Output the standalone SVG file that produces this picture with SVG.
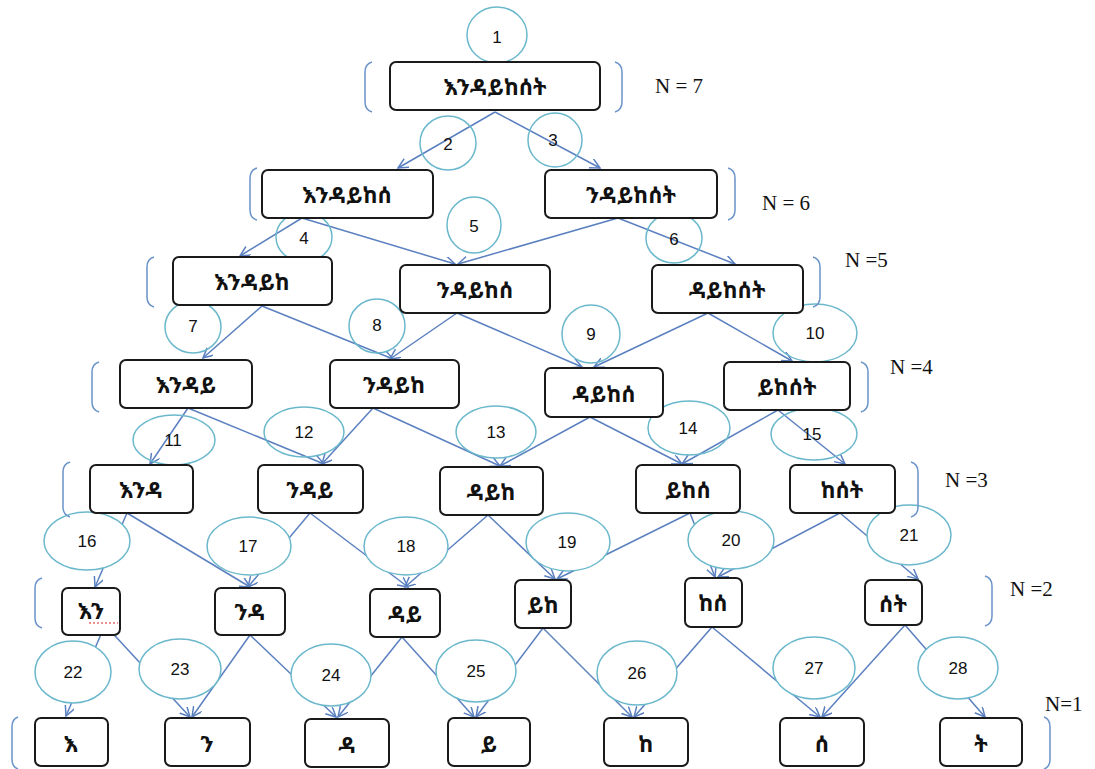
<svg xmlns="http://www.w3.org/2000/svg" width="1095" height="769" viewBox="0 0 1095 769">
<style>
  .box{fill:#fff;stroke:#1a1a1a;stroke-width:2}
  .wd{font-family:"Noto Sans Ethiopic","Abyssinica SIL","FreeSerif","DejaVu Sans",sans-serif;font-weight:bold;font-size:22px;fill:#111;text-anchor:middle;dominant-baseline:central}
  .bub{fill:none;stroke:#6bb8cc;stroke-width:1.5}
  .bub.solid{fill:#fff}
  .num{font-family:"Liberation Sans Narrow","Liberation Sans",sans-serif;font-size:17px;fill:#111;text-anchor:middle;dominant-baseline:central}
  .edge{stroke:#5b80c0;stroke-width:1.5;fill:none;marker-end:url(#arr)}
  .brk{fill:none;stroke:#6a93c9;stroke-width:1.5}
  .lvl{font-family:"Liberation Serif",serif;font-size:21px;fill:#111}
</style>
<defs>
  <marker id="arr" markerWidth="12" markerHeight="12" refX="10" refY="5" orient="auto" markerUnits="userSpaceOnUse">
    <path d="M0,0 L10,5 L0,10" fill="none" stroke="#5b80c0" stroke-width="1.5"/>
  </marker>
</defs>
<rect width="1095" height="769" fill="#fff"/>

<!-- connectors -->
<g id="connectors">
  <line class="edge" x1="495" y1="112" x2="398" y2="168"/>
  <line class="edge" x1="495" y1="112" x2="600" y2="168"/>

  <line class="edge" x1="302" y1="218" x2="240" y2="256"/>
  <line class="edge" x1="302" y1="218" x2="455" y2="264"/>
  <line class="edge" x1="618" y1="218" x2="458" y2="264"/>
  <line class="edge" x1="618" y1="218" x2="735" y2="264"/>

  <line class="edge" x1="262" y1="306" x2="203" y2="358"/>
  <line class="edge" x1="262" y1="306" x2="393" y2="359"/>
  <line class="edge" x1="457" y1="313" x2="390" y2="359"/>
  <line class="edge" x1="457" y1="313" x2="582" y2="367"/>
  <line class="edge" x1="708" y1="313" x2="594" y2="367"/>
  <line class="edge" x1="708" y1="313" x2="792" y2="361"/>

  <line class="edge" x1="188" y1="408" x2="150" y2="464"/>
  <line class="edge" x1="188" y1="408" x2="324" y2="464"/>
  <line class="edge" x1="373" y1="408" x2="322" y2="464"/>
  <line class="edge" x1="373" y1="408" x2="500" y2="466"/>
  <line class="edge" x1="590" y1="417" x2="500" y2="466"/>
  <line class="edge" x1="590" y1="417" x2="682" y2="464"/>
  <line class="edge" x1="778" y1="410" x2="682" y2="464"/>
  <line class="edge" x1="778" y1="410" x2="845" y2="464"/>

  <line class="edge" x1="127" y1="513" x2="95" y2="587"/>
  <line class="edge" x1="127" y1="513" x2="250" y2="587"/>
  <line class="edge" x1="310" y1="513" x2="248" y2="587"/>
  <line class="edge" x1="310" y1="513" x2="408" y2="587"/>
  <line class="edge" x1="488" y1="515" x2="405" y2="587"/>
  <line class="edge" x1="488" y1="515" x2="555" y2="579"/>
  <line class="edge" x1="690" y1="513" x2="557" y2="579"/>
  <line class="edge" x1="690" y1="513" x2="715" y2="577"/>
  <line class="edge" x1="840" y1="513" x2="718" y2="577"/>
  <line class="edge" x1="840" y1="513" x2="918" y2="579"/>

  <line class="edge" x1="105" y1="625" x2="66" y2="716"/>
  <line class="edge" x1="105" y1="625" x2="190" y2="717"/>
  <line class="edge" x1="250" y1="635" x2="192" y2="717"/>
  <line class="edge" x1="250" y1="635" x2="336" y2="717"/>
  <line class="edge" x1="402" y1="637" x2="338" y2="717"/>
  <line class="edge" x1="402" y1="637" x2="474" y2="717"/>
  <line class="edge" x1="543" y1="628" x2="476" y2="717"/>
  <line class="edge" x1="543" y1="628" x2="632" y2="717"/>
  <line class="edge" x1="712" y1="627" x2="634" y2="717"/>
  <line class="edge" x1="712" y1="627" x2="820" y2="717"/>
  <line class="edge" x1="905" y1="625" x2="822" y2="717"/>
  <line class="edge" x1="905" y1="625" x2="985" y2="717"/>
</g>

<!-- step bubbles -->
<g id="bubbles">
  <ellipse class="bub" cx="497" cy="35" rx="30" ry="28"/><text class="num" x="497" y="37">1</text>
  <ellipse class="bub" cx="448" cy="143" rx="28" ry="27"/><text class="num" x="448" y="144">2</text>
  <ellipse class="bub" cx="555" cy="140" rx="27" ry="27"/><text class="num" x="553" y="140">3</text>
  <ellipse class="bub" cx="304" cy="237" rx="28" ry="25"/><text class="num" x="304" y="238">4</text>
  <ellipse class="bub" cx="474" cy="225" rx="27" ry="28"/><text class="num" x="474" y="226">5</text>
  <ellipse class="bub" cx="674" cy="238" rx="28" ry="25"/><text class="num" x="674" y="239">6</text>
  <ellipse class="bub" cx="193" cy="327" rx="28" ry="26"/><text class="num" x="193" y="326">7</text>
  <ellipse class="bub" cx="377" cy="326" rx="28" ry="27"/><text class="num" x="377" y="325">8</text>
  <ellipse class="bub" cx="591" cy="334" rx="29" ry="29"/><text class="num" x="591" y="334">9</text>
  <ellipse class="bub" cx="815" cy="333" rx="42" ry="29"/><text class="num" x="815" y="333">10</text>
  <ellipse class="bub" cx="174" cy="440" rx="41" ry="25"/><text class="num" x="173" y="440">11</text>
  <ellipse class="bub" cx="304" cy="432" rx="40" ry="25"/><text class="num" x="304" y="432">12</text>
  <ellipse class="bub" cx="496" cy="432" rx="40" ry="26"/><text class="num" x="496" y="432">13</text>
  <ellipse class="bub" cx="689" cy="428" rx="41" ry="27"/><text class="num" x="688" y="428">14</text>
  <ellipse class="bub" cx="814" cy="434" rx="43" ry="26"/><text class="num" x="812" y="434">15</text>
  <ellipse class="bub solid" cx="87" cy="541" rx="43" ry="29"/><text class="num" x="87" y="541">16</text>
  <ellipse class="bub solid" cx="249" cy="546" rx="42" ry="29"/><text class="num" x="248" y="546">17</text>
  <ellipse class="bub solid" cx="406" cy="546" rx="42" ry="29"/><text class="num" x="406" y="546">18</text>
  <ellipse class="bub solid" cx="568" cy="542" rx="42" ry="29"/><text class="num" x="567" y="542">19</text>
  <ellipse class="bub solid" cx="731" cy="540" rx="43" ry="29"/><text class="num" x="731" y="540">20</text>
  <ellipse class="bub solid" cx="909" cy="535" rx="42" ry="30"/><text class="num" x="909" y="535">21</text>
  <ellipse class="bub solid" cx="73" cy="672" rx="38" ry="31"/><text class="num" x="73" y="672">22</text>
  <ellipse class="bub solid" cx="180" cy="669" rx="41" ry="30"/><text class="num" x="180" y="669">23</text>
  <ellipse class="bub solid" cx="331" cy="675" rx="40" ry="31"/><text class="num" x="331" y="675">24</text>
  <ellipse class="bub solid" cx="476" cy="671" rx="40" ry="31"/><text class="num" x="476" y="671">25</text>
  <ellipse class="bub solid" cx="637" cy="673" rx="40" ry="32"/><text class="num" x="637" y="673">26</text>
  <ellipse class="bub solid" cx="814" cy="668" rx="41" ry="31"/><text class="num" x="814" y="668">27</text>
  <ellipse class="bub solid" cx="958" cy="668" rx="40" ry="31"/><text class="num" x="958" y="668">28</text>
</g>

<!-- level brackets and labels -->
<g id="levels">
  <path class="brk" d="M372,62 Q365,64 365,72 L365,102 Q365,110 372,112"/>
  <path class="brk" d="M615,62 Q622,64 622,72 L622,102 Q622,110 615,112"/>
  <text class="lvl" x="655" y="93">N = 7</text>

  <path class="brk" d="M257,168 Q250,170 250,178 L250,210 Q250,218 257,220"/>
  <path class="brk" d="M728,168 Q735,170 735,178 L735,210 Q735,218 728,220"/>
  <text class="lvl" x="762" y="210">N = 6</text>

  <path class="brk" d="M154,257 Q147,259 147,267 L147,297 Q147,305 154,307"/>
  <path class="brk" d="M813,257 Q820,259 820,267 L820,297 Q820,305 813,307"/>
  <text class="lvl" x="845" y="267">N =5</text>

  <path class="brk" d="M99,362 Q92,364 92,372 L92,402 Q92,410 99,412"/>
  <path class="brk" d="M861,362 Q868,364 868,372 L868,402 Q868,410 861,412"/>
  <text class="lvl" x="890" y="374">N =4</text>

  <path class="brk" d="M70,462 Q63,464 63,472 L63,507 Q63,515 70,517"/>
  <path class="brk" d="M911,462 Q918,464 918,472 L918,507 Q918,515 911,517"/>
  <text class="lvl" x="945" y="487">N =3</text>

  <path class="brk" d="M42,578 Q35,580 35,588 L35,618 Q35,626 42,628"/>
  <path class="brk" d="M985,576 Q992,578 992,586 L992,616 Q992,624 985,626"/>
  <text class="lvl" x="1010" y="596">N =2</text>

  <path class="brk" d="M18,717 Q12,719 12,727 L12,759 Q12,767 18,769"/>
  <path class="brk" d="M1044,717 Q1050,719 1050,727 L1050,759 Q1050,767 1044,769"/>
  <text class="lvl" x="1045" y="711">N=1</text>
</g>

<!-- level 7 -->
<g id="n7"><rect class="box" x="390" y="62" width="210" height="48" rx="6"/><text class="wd" x="495" y="86">እንዳይከሰት</text></g>
<!-- level 6 -->
<g id="n6a"><rect class="box" x="262" y="170" width="171" height="48" rx="6"/><text class="wd" x="347" y="194">እንዳይከሰ</text></g>
<g id="n6b"><rect class="box" x="545" y="170" width="172" height="48" rx="6"/><text class="wd" x="631" y="194">ንዳይከሰት</text></g>
<!-- level 5 -->
<g id="n5a"><rect class="box" x="173" y="257" width="159" height="48" rx="6"/><text class="wd" x="252" y="281">እንዳይከ</text></g>
<g id="n5b"><rect class="box" x="400" y="265" width="150" height="48" rx="6"/><text class="wd" x="475" y="289">ንዳይከሰ</text></g>
<g id="n5c"><rect class="box" x="652" y="265" width="151" height="48" rx="6"/><text class="wd" x="727" y="289">ዳይከሰት</text></g>
<!-- level 4 -->
<g id="n4a"><rect class="box" x="120" y="360" width="132" height="48" rx="6"/><text class="wd" x="186" y="384">እንዳይ</text></g>
<g id="n4b"><rect class="box" x="330" y="360" width="129" height="48" rx="6"/><text class="wd" x="394" y="384">ንዳይከ</text></g>
<g id="n4c"><rect class="box" x="545" y="368" width="118" height="49" rx="6"/><text class="wd" x="604" y="393">ዳይከሰ</text></g>
<g id="n4d"><rect class="box" x="724" y="362" width="126" height="48" rx="6"/><text class="wd" x="787" y="386">ይከሰት</text></g>
<!-- level 3 -->
<g id="n3a"><rect class="box" x="90" y="465" width="103" height="48" rx="6"/><text class="wd" x="141" y="489">እንዳ</text></g>
<g id="n3b"><rect class="box" x="258" y="465" width="105" height="48" rx="6"/><text class="wd" x="310" y="489">ንዳይ</text></g>
<g id="n3c"><rect class="box" x="440" y="467" width="103" height="48" rx="6"/><text class="wd" x="491" y="491">ዳይከ</text></g>
<g id="n3d"><rect class="box" x="636" y="465" width="104" height="48" rx="6"/><text class="wd" x="688" y="489">ይከሰ</text></g>
<g id="n3e"><rect class="box" x="790" y="465" width="105" height="48" rx="6"/><text class="wd" x="842" y="489">ከሰት</text></g>
<!-- level 2 -->
<g id="n2a"><rect class="box" x="62" y="588" width="58" height="47" rx="6"/><text class="wd" x="91" y="610">እን</text>
  <line x1="89" y1="623" x2="118" y2="623" stroke="#e02020" stroke-width="1.2" stroke-dasharray="2,2"/></g>
<g id="n2b"><rect class="box" x="215" y="588" width="70" height="47" rx="6"/><text class="wd" x="250" y="611">ንዳ</text></g>
<g id="n2c"><rect class="box" x="370" y="589" width="70" height="48" rx="6"/><text class="wd" x="405" y="613">ዳይ</text></g>
<g id="n2d"><rect class="box" x="515" y="580" width="56" height="48" rx="6"/><text class="wd" x="543" y="604">ይከ</text></g>
<g id="n2e"><rect class="box" x="685" y="578" width="57" height="49" rx="6"/><text class="wd" x="713" y="602">ከሰ</text></g>
<g id="n2f"><rect class="box" x="865" y="580" width="57" height="45" rx="6"/><text class="wd" x="893" y="603">ሰት</text></g>
<!-- level 1 -->
<g id="n1a"><rect class="box" x="35" y="718" width="73" height="48" rx="6"/><text class="wd" x="71" y="743">እ</text></g>
<g id="n1b"><rect class="box" x="165" y="718" width="85" height="48" rx="6"/><text class="wd" x="207" y="743">ን</text></g>
<g id="n1c"><rect class="box" x="305" y="719" width="84" height="48" rx="6"/><text class="wd" x="347" y="744">ዳ</text></g>
<g id="n1d"><rect class="box" x="448" y="718" width="82" height="48" rx="6"/><text class="wd" x="489" y="743">ይ</text></g>
<g id="n1e"><rect class="box" x="604" y="718" width="84" height="48" rx="6"/><text class="wd" x="646" y="743">ከ</text></g>
<g id="n1f"><rect class="box" x="780" y="718" width="84" height="48" rx="6"/><text class="wd" x="822" y="743">ሰ</text></g>
<g id="n1g"><rect class="box" x="940" y="718" width="82" height="48" rx="6"/><text class="wd" x="981" y="743">ት</text></g>
</svg>
